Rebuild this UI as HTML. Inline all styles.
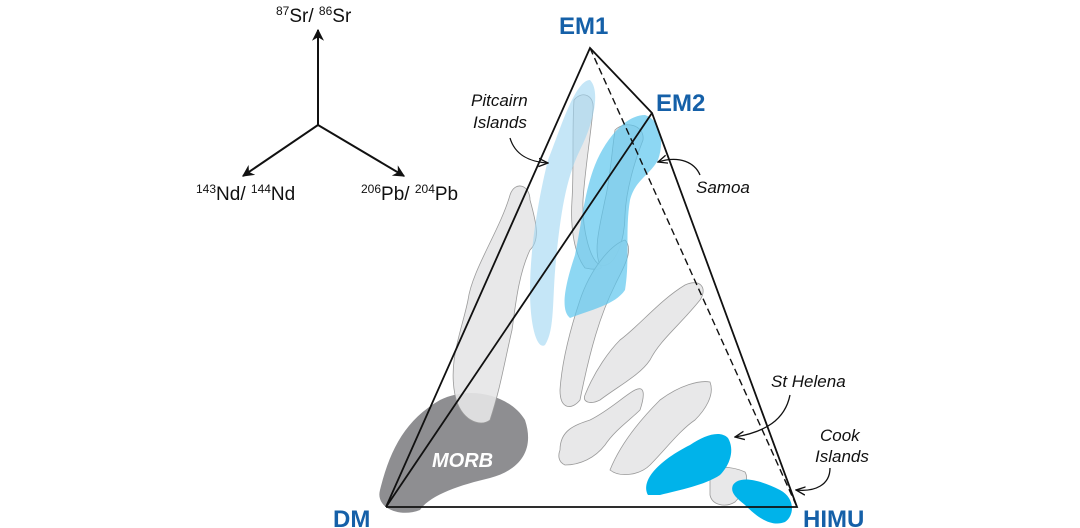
<!DOCTYPE html>
<html><head><meta charset="utf-8"><style>
html,body{margin:0;padding:0;background:#fff;width:1080px;height:528px;overflow:hidden}
svg{display:block;font-family:"Liberation Sans",sans-serif}
</style></head><body>
<svg width="1080" height="528" viewBox="0 0 1080 528">
<defs>
<marker id="ah" viewBox="0 0 10 10" refX="9" refY="5" markerWidth="6" markerHeight="6" orient="auto"><path d="M0,0 L10,5 L0,10 L3,5z" fill="#111"/></marker>
<marker id="oa" viewBox="0 0 10 10" refX="9" refY="5" markerWidth="8" markerHeight="8" orient="auto"><path d="M0,1 L9,5 L0,9" fill="none" stroke="#111" stroke-width="1.3"/></marker>
</defs>
<!-- axes -->
<g stroke="#111" stroke-width="2" fill="none">
<line x1="318" y1="125" x2="318" y2="30" marker-end="url(#ah)"/>
<line x1="318" y1="125" x2="243" y2="176" marker-end="url(#ah)"/>
<line x1="318" y1="125" x2="404" y2="176" marker-end="url(#ah)"/>
</g>
<g font-size="19" fill="#111">
<text x="276" y="22"><tspan font-size="12" dy="-7">87</tspan><tspan dy="7">Sr/ </tspan><tspan font-size="12" dy="-7">86</tspan><tspan dy="7">Sr</tspan></text>
<text x="196" y="200"><tspan font-size="12" dy="-7">143</tspan><tspan dy="7">Nd/ </tspan><tspan font-size="12" dy="-7">144</tspan><tspan dy="7">Nd</tspan></text>
<text x="361" y="200"><tspan font-size="12" dy="-7">206</tspan><tspan dy="7">Pb/ </tspan><tspan font-size="12" dy="-7">204</tspan><tspan dy="7">Pb</tspan></text>
</g>
<!-- MORB -->
<path d="M380,490 C390,450 405,420 440,400 C470,385 510,395 525,420 C535,450 520,470 490,478 C460,485 430,495 420,510 C400,518 375,508 380,490Z" fill="#8e8e91"/>
<text x="432" y="467" font-size="20" font-weight="bold" font-style="italic" fill="#fff">MORB</text>
<!-- grey fields -->
<g fill="#e5e6e7" stroke="#9a9a9a" stroke-width="0.8" fill-opacity="0.9">
<path d="M455,395 C448,360 462,330 468,300 C472,270 500,230 510,195 C515,180 530,185 530,200 C537,225 540,240 530,250 C518,275 515,310 512,330 C505,360 500,390 490,420 C480,428 460,420 455,395Z"/>
<path d="M574,100 C582,90 595,95 593,110 C590,140 585,170 583,200 C582,230 590,260 600,265 C605,270 595,270 585,268 C575,255 570,230 572,200 C574,170 572,130 574,100Z"/>
<path d="M615,130 C625,120 645,125 643,140 C635,160 626,190 625,215 C625,240 615,270 600,265 C593,250 600,225 605,200 C610,180 612,150 615,130Z"/>
<path d="M560,390 C562,360 570,330 580,300 C590,270 610,245 625,240 C635,250 622,270 615,285 C600,315 590,350 580,400 C572,410 560,410 560,390Z"/>
<path d="M585,395 C595,370 610,350 620,340 C640,325 660,300 685,285 C700,278 708,288 700,300 C680,325 660,340 650,360 C640,375 620,385 600,400 C590,405 582,402 585,395Z"/>
<path d="M560,450 C560,430 575,425 590,420 C610,410 625,395 635,390 C645,385 645,395 640,410 C630,420 615,430 605,445 C595,458 580,465 565,465 C558,462 558,455 560,450Z"/>
<path d="M610,470 C620,445 640,420 660,400 C680,385 700,380 710,382 C715,395 705,410 695,420 C680,430 665,450 650,465 C640,475 620,478 610,470Z"/>
<path d="M710,470 C712,467 730,465 745,472 C750,480 742,495 735,502 C725,508 712,505 710,495Z"/>
</g>
<!-- blue fields -->
<path d="M548,160 C560,130 575,80 590,80 C600,90 595,120 580,150 C565,180 560,220 556,260 C552,300 555,330 545,345 C538,350 530,330 530,290 C530,250 538,200 548,160Z" fill="#9fd6f2" fill-opacity="0.6"/>
<path d="M595,165 C605,140 625,115 645,115 C660,120 665,140 658,160 C650,175 635,180 630,200 C625,230 630,260 625,290 C615,305 590,310 570,318 C560,310 565,285 575,255 C582,220 585,190 595,165Z" fill="#5cc6ee" fill-opacity="0.7"/>
<path d="M648,495 C640,480 660,460 690,445 C705,435 720,430 728,438 C735,450 730,465 720,475 C705,485 680,490 660,495Z" fill="#00b3ea"/>
<path d="M733,485 C740,475 760,480 780,490 C795,498 795,515 785,522 C770,528 755,515 745,505 C735,497 730,492 733,485Z" fill="#00b3ea"/>
<!-- tetrahedron -->
<g stroke="#111" stroke-width="1.8" fill="none">
<polyline points="386,507 590,48 652,113 797,507 386,507"/>
<line x1="386" y1="507" x2="652" y2="113"/>
<line x1="590" y1="48" x2="797" y2="507" stroke-dasharray="7,4" stroke-width="1.4"/>
</g>
<!-- labels -->
<g font-weight="bold" fill="#1560a8" font-size="24">
<text x="559" y="34">EM1</text>
<text x="656" y="111">EM2</text>
<text x="333" y="527">DM</text>
<text x="803" y="527">HIMU</text>
</g>
<g font-style="italic" font-size="17" fill="#111">
<text x="471" y="106">Pitcairn</text>
<text x="473" y="128">Islands</text>
<text x="696" y="193">Samoa</text>
<text x="771" y="387">St Helena</text>
<text x="820" y="441">Cook</text>
<text x="815" y="462">Islands</text>
</g>
<g stroke="#111" stroke-width="1.3" fill="none">
<path d="M510,138 C515,155 530,162 548,163" marker-end="url(#oa)"/>
<path d="M700,175 C695,163 680,155 658,162" marker-end="url(#oa)"/>
<path d="M790,395 C785,420 765,432 735,437" marker-end="url(#oa)"/>
<path d="M830,468 C830,485 815,492 796,490" marker-end="url(#oa)"/>
</g>
</svg>
</body></html>
